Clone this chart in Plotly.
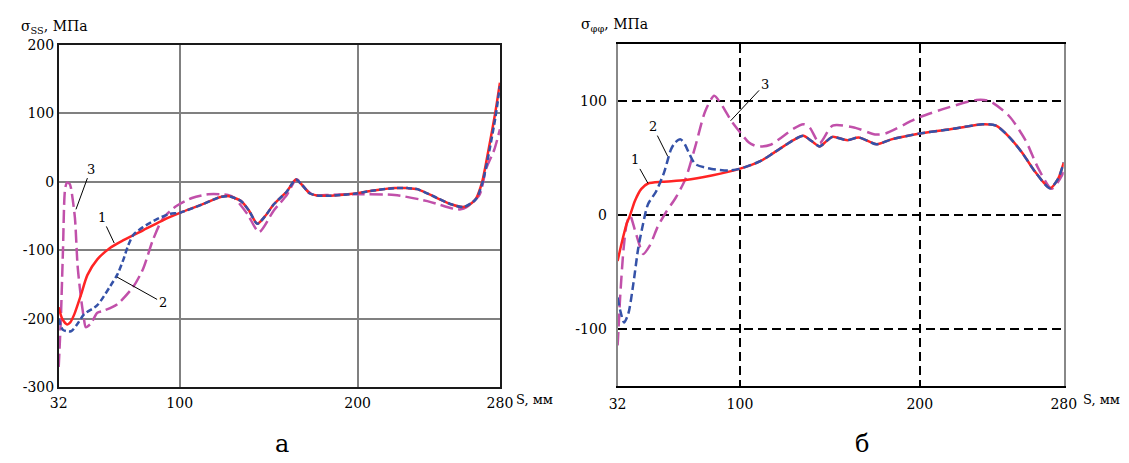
import plotly.graph_objects as go

# ---------------- data: panel a (sigma_SS) ----------------
a1_s = [32, 34, 36.7, 38.5, 40.8, 44.5, 48.1, 53.7, 61, 68.4, 79.4, 94, 100.5, 112.4, 123.5, 128,
        134.5, 139, 143.6, 148, 152.8, 160.2, 165.3, 169, 173, 178, 185, 198.7, 207.9, 220.8, 228,
        233.6, 244.7, 253, 259.3, 264, 266.7, 270, 273.8, 277.3, 280]
a1_v = [-183, -200, -208, -205, -193, -165, -136, -113, -96, -85, -70.6, -51.8, -44.7, -33, -21.5, -21,
        -28, -42, -61, -50, -33, -14, 3.5, -5, -16.5, -20, -20, -17, -13, -9, -9,
        -10.5, -23.5, -33, -36.7, -31, -23.5, 0, 50, 100, 145]

a2_s = [32, 34.4, 38.9, 42.6, 46.3, 53.7, 61, 65, 68.4, 71, 74, 79.4, 86.7, 94, 100.5, 112.4, 123.5, 128,
        134.5, 139, 143.6, 148, 152.8, 160.2, 165.3, 169, 173, 178, 185, 198.7, 207.9, 220.8, 228,
        233.6, 244.7, 253, 259.3, 264, 267, 270.3, 274, 277.5, 280]
a2_v = [-200, -216, -218, -207, -193, -180, -152, -135, -113, -93, -77, -66, -55, -47, -44.7, -33, -21.5, -21,
        -28, -42, -61, -50, -33, -14, 3.5, -5, -16.5, -20, -20, -17, -13, -9, -9,
        -10.5, -23.5, -33, -36.7, -31, -23.5, 0, 45, 95, 140]

a3_s = [32, 33.2, 34.4, 35.6, 36.7, 38.2, 38.9, 41.1, 42.6, 44.5, 46.2, 47.2, 50, 53.7, 57.3, 64.7,
        73.9, 79.4, 84.9, 90.4, 97.7, 106.9, 116, 127.1, 130.8, 138.1, 144.6, 152.8, 160.2, 165.7,
        170, 174.9, 182.2, 198.7, 220.8, 239.2, 253.8, 258, 261.2, 268.5, 272.2, 276.8, 280]
a3_v = [-270, -200, -99, -10, -1, -3, -9, -52, -122, -169, -200, -212, -207, -191, -188, -179,
        -153, -127, -85, -54, -36, -23.5, -18, -19, -23.5, -47, -73, -42, -19, 4,
        -8, -19, -19, -18, -19, -28, -39, -40, -37, -19, 19, 47, 77]

# ---------------- data: panel б (sigma_phiphi) ----------------
b1_s = [32, 34.3, 37.1, 38.9, 41.6, 45.2, 48.9, 57.1, 69.8, 84.3, 99.7, 111.6, 118.8, 129.7, 135.2,
        140, 144.3, 148, 151.5, 159.7, 166, 176, 184.2, 199.3, 218.7, 235, 242.4, 249.6, 256.9,
        264.2, 272.3, 276.9, 280]
b1_v = [-40, -24, -7, 0, 12.7, 23.3, 28, 29.5, 31, 35, 40.8, 47.8, 54.9, 66, 69.8,
        65, 60.5, 65, 68.9, 66, 68.4, 62.4, 66.7, 71.7, 76, 80, 78.7, 68.9, 54.9,
        38, 23.9, 32.3, 46.4]

b2_s = [32, 33.4, 35.6, 38, 40.7, 43.4, 46.2, 48.9, 53.4, 57.9, 61.6, 64, 67, 69.5, 71.6, 75.2,
        84.3, 93.4, 99.7, 111.6, 118.8, 129.7, 135.2, 140, 144.3, 148, 151.5, 159.7, 166, 176,
        184.2, 199.3, 218.7, 235, 242.4, 249.6, 256.9, 264.2, 272.3, 276.9, 280]
b2_v = [-72, -83, -94, -86, -60.5, -29.5, -7, 9.9, 21, 38, 57.6, 64, 66.7, 62, 55, 45,
        40.8, 39.4, 40.8, 47.8, 54.9, 66, 69.8, 65, 60.5, 65, 68.9, 66, 68.4, 62.4,
        66.7, 71.7, 76, 80, 78.7, 68.9, 54.9, 38, 23.9, 32.3, 46.4]

b3_s = [32, 32.5, 33.4, 35.3, 37.1, 38.9, 41.6, 44.3, 46.2, 49.8, 54.3, 58.9, 64.3, 69.8, 75.2,
        80.7, 85.7, 89.8, 95.2, 100.7, 105, 109.7, 117, 129.7, 135.2, 138.8, 144.3, 151.5, 164.2,
        175.1, 180.6, 199.3, 215.1, 231.5, 238.7, 249.6, 258.7, 266, 273.2, 276.9, 280]
b3_v = [-114, -100, -72, -29.5, -7, 0, -12.7, -26.7, -33.8, -26.7, -9.9, 2.8, 15.5, 32.3, 60.5,
        91.4, 105, 97, 83, 71.7, 64, 60.5, 62, 76, 80, 77, 63.3, 78.7, 76.8,
        71, 71.7, 85.8, 94.3, 101.3, 100.4, 87.2, 66, 40.8, 23.3, 29.5, 38]

x_ticks = [32, 100, 200, 280]
x_ticktext = ["32", "100", "200", "280"]
ya_ticks = [-300, -200, -100, 0, 100, 200]
ya_ticktext = ["-300", "-200", "-100", "0", "100", "200"]
yb_ticks = [-100, 0, 100]
yb_ticktext = ["-100", "0", "100"]

RED = "#ff2424"
BLUE = "#3552a8"
MAG = "#c150aa"
SERIF = "DejaVu Serif"

fig = go.Figure()

def add_curves(xa, ya, s1, v1, s2, v2, s3, v3, bdash, mdash):
    fig.add_trace(go.Scatter(x=s3, y=v3, xaxis=xa, yaxis=ya, mode="lines",
                             line=dict(color=MAG, width=2.5, dash=mdash, shape="spline", smoothing=0.7)))
    fig.add_trace(go.Scatter(x=s1, y=v1, xaxis=xa, yaxis=ya, mode="lines",
                             line=dict(color=RED, width=2.5, shape="spline", smoothing=0.7)))
    fig.add_trace(go.Scatter(x=s2, y=v2, xaxis=xa, yaxis=ya, mode="lines",
                             line=dict(color=BLUE, width=2.5, dash=bdash, shape="spline", smoothing=0.7)))

add_curves("x", "y", a1_s, a1_v, a2_s, a2_v, a3_s, a3_v, "6px,3px", "13px,5px")
add_curves("x2", "y2", b1_s, b1_v, b2_s, b2_v, b3_s, b3_v, "8px,4px", "13px,6px")

tickfont = dict(family=SERIF, size=14, color="black")

fig.update_layout(
    width=1129, height=463,
    margin=dict(l=0, r=0, t=0, b=0),
    paper_bgcolor="white", plot_bgcolor="white",
    showlegend=False,
    font=dict(family=SERIF, color="black"),
    xaxis=dict(domain=[50.7/1129, 500.7/1129], range=[32, 280], tickvals=x_ticks, ticktext=x_ticktext,
               showgrid=True, gridcolor="#808080", gridwidth=1.5, zeroline=False,
               showline=True, linecolor="#1a1a1a", linewidth=1.5, mirror=True,
               ticks="", tickfont=tickfont, anchor="y", ticklabelstandoff=2),
    yaxis=dict(domain=[1-393/463, 1-38.3/463], range=[-300, 200], tickvals=ya_ticks, ticktext=ya_ticktext,
               showgrid=True, gridcolor="#808080", gridwidth=1.5, zeroline=False,
               showline=True, linecolor="#1a1a1a", linewidth=1.5, mirror=True,
               ticks="", tickfont=tickfont, anchor="x", ticklabelstandoff=0),
    xaxis2=dict(domain=[620.7/1129, 1075.7/1129], range=[32, 280], tickvals=x_ticks, ticktext=x_ticktext,
                showgrid=True, gridcolor="black", gridwidth=2, griddash="9px,5px", zeroline=False,
                showline=True, linecolor="black", linewidth=1.5, mirror=True,
                ticks="", tickfont=tickfont, anchor="y2", ticklabelstandoff=4),
    yaxis2=dict(domain=[1-392/463, 1-37.7/463], range=[-150, 150], tickvals=yb_ticks, ticktext=yb_ticktext,
                showgrid=True, gridcolor="black", gridwidth=2, griddash="9px,5px", zeroline=False,
                showline=True, linecolor="#888888", linewidth=2, mirror=True,
                ticks="", tickfont=tickfont, anchor="x2", ticklabelstandoff=6),
)

ann_font = dict(family=SERIF, size=13, color="black")
# curve labels with leader lines
labels = [
    ("x", "y", "3", 41.7, -40, 50, 18.8),
    ("x", "y", "1", 63.2, -89.3, 56.4, -51.8),
    ("x", "y", "2", 64.7, -138.7, 90.4, -176),
    ("x2", "y2", "1", 48.9, 28.1, 41.6, 48.7),
    ("x2", "y2", "2", 59.8, 52, 51.6, 77.9),
    ("x2", "y2", "3", 94.8, 83, 113.7, 114.8),
]
for xr, yr, t, hx, hy, tx, ty in labels:
    fig.add_annotation(x=hx, y=hy, xref=xr, yref=yr, ax=tx, ay=ty, axref=xr, ayref=yr,
                       text=t, showarrow=True, arrowhead=0, arrowwidth=1, arrowcolor="black",
                       font=ann_font, standoff=0, startstandoff=0)

# axis unit labels
for xr, sh in [("x", 14), ("x2", 17)]:
    fig.add_annotation(x=280, y=1-405/463, xref=xr, yref="paper", text="S, мм", showarrow=False,
                       xanchor="left", yanchor="middle", xshift=sh, font=dict(family=SERIF, size=13, color="black"))

fig.add_annotation(x=10/1129, y=1-20/463, xref="paper", yref="paper", xanchor="left", yanchor="middle",
                   text="σ<sub>SS</sub>, МПа", showarrow=False, font=dict(family=SERIF, size=14, color="black"))
fig.add_annotation(x=581/1129, y=1-18/463, xref="paper", yref="paper", xanchor="left", yanchor="middle",
                   text="σ<sub>φφ</sub>, МПа", showarrow=False, font=dict(family=SERIF, size=14, color="black"))

fig.add_annotation(x=278/1129, y=1-452/463, xref="paper", yref="paper", xanchor="center", yanchor="middle",
                   text="а", showarrow=False, font=dict(family=SERIF, size=24, color="black"))
fig.add_annotation(x=870/1129, y=1-452/463, xref="paper", yref="paper", xanchor="center", yanchor="middle",
                   text="б", showarrow=False, font=dict(family=SERIF, size=24, color="black"))

fig.write_html("out.html")
